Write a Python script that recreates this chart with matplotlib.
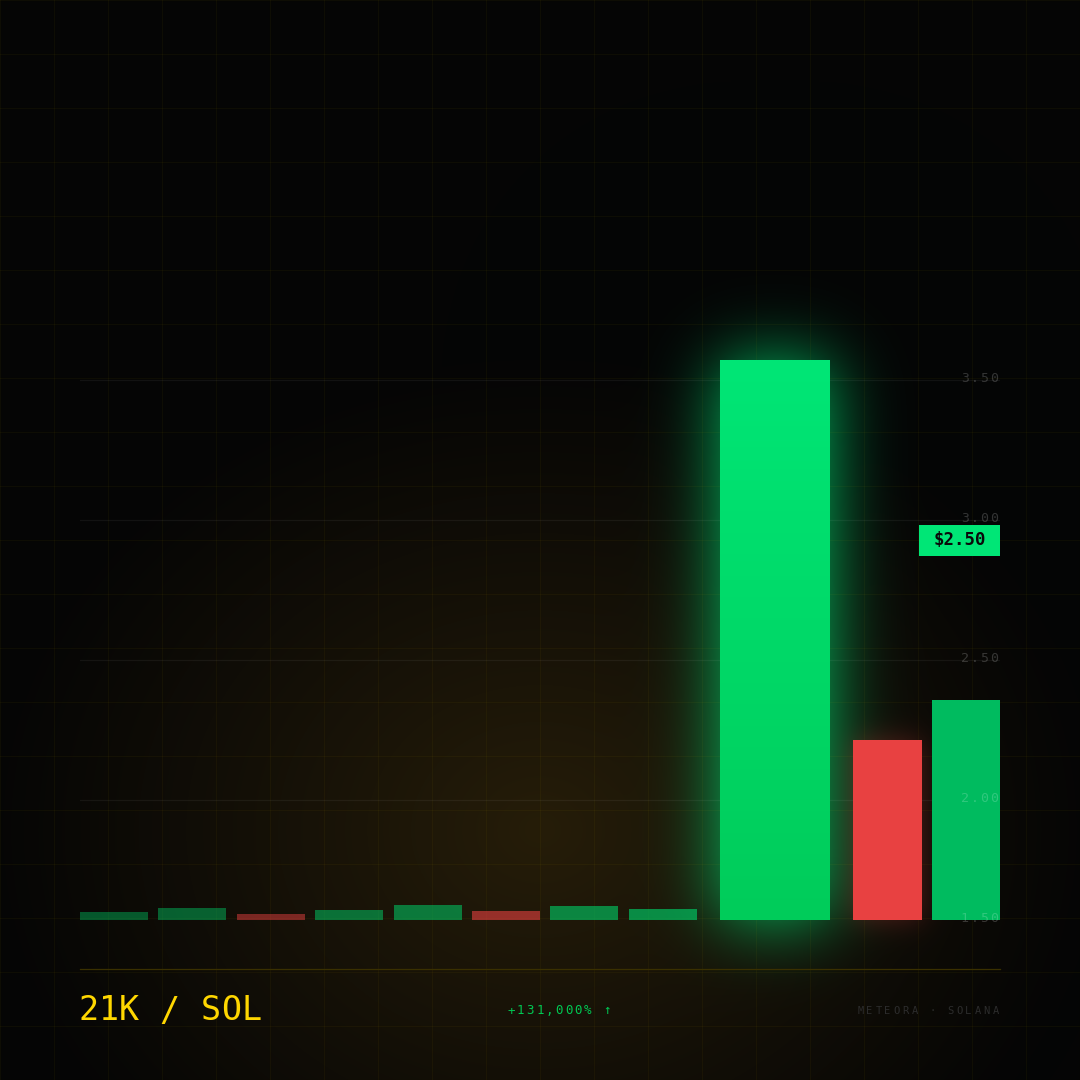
import numpy as np
import matplotlib.pyplot as plt
from matplotlib.transforms import IdentityTransform
from math import erf, sqrt

# candle data (heights in chart units above the base line)
candle_heights = [8, 12, 6, 10, 15, 9, 14, 11, 560, 180, 220]
candle_up = [True, True, False, True, True, False, True, True, True, False, True]
price_ticks = [540, 400, 260, 120, 0]
price_labels = ['3.50', '3.00', '2.50', '2.00', '1.50']
last_price = '$2.50'
last_price_level = 380
title = '21K / SOL'
change_text = '+131,000% ↑'
source_text = 'METEORA · SOLANA'

W = H = 1080
GREEN = '#00c864'
RED = '#e84141'
BIG_TOP = np.array([0, 230, 118]) / 255
BIG_BOT = np.array([0, 204, 90]) / 255
MONO = 'DejaVu Sans Mono'

fig = plt.figure(figsize=(10.8, 10.8), dpi=100)
fig.patch.set_facecolor('#050505')

# main chart axes, 1 data unit = 1 px
ax = fig.add_axes([80 / W, 160 / H, 920 / W, 560 / H], zorder=2)
ax.set_xlim(0, 920)
ax.set_ylim(0, 560)
ax.patch.set_alpha(0)
ax.axis('off')

lefts = [i * 78.4 for i in range(8)] + [640, 773, 852]
widths = [68] * 8 + [110, 69, 68]
colors = []
for i, up in enumerate(candle_up):
    if i < 8:
        colors.append((GREEN if up else RED, 0.42 + 0.035 * i))
    elif i == 8:
        colors.append((BIG_TOP, 1.0))
    else:
        colors.append(('#00bb5f' if up else RED, 1.0))

bars = ax.bar(lefts, candle_heights, width=widths, align='edge',
              color=[c for c, a in colors], zorder=3)
for b, (c, a) in zip(bars, colors):
    b.set_alpha(a)

# gradient fill for the breakout candle
big = bars[8]
grad = np.linspace(0, 1, 256)[:, None, None]
grad_img = BIG_BOT * (1 - grad) + BIG_TOP * grad
im = ax.imshow(grad_img, extent=(big.get_x(), big.get_x() + big.get_width(), 0, big.get_height()),
               origin='lower', aspect='auto', zorder=4)
im.set_clip_path(big)
ax.set_xlim(0, 920)
ax.set_ylim(0, 560)

# horizontal price grid
for v in price_ticks:
    ax.axhline(v, color='white', alpha=0.055, lw=0.9, zorder=1)


def spaced(x, y, s, step, ha='right', **kw):
    # draw letter-spaced monospace text in display pixels
    total = step * len(s)
    if ha == 'right':
        start = x - total
    elif ha == 'center':
        start = x - total / 2
    else:
        start = x
    for i, ch in enumerate(s):
        ax.text(start + step * (i + 0.5), y, ch, transform=IdentityTransform(),
                ha='center', va='center', family=MONO, clip_on=False, **kw)


for v, lab in zip(price_ticks, price_labels):
    yd = ax.transData.transform((0, v))[1]
    spaced(998.5, yd + 1.5, lab, 9.6, fontsize=9.5, color='white', alpha=0.19, zorder=5)

# current price tag
yd = ax.transData.transform((0, last_price_level))[1]
ax.add_patch(plt.Rectangle((919, yd - 15.5), 81, 31, transform=IdentityTransform(),
                           facecolor='#00e676', edgecolor='none', zorder=6, clip_on=False))
ax.text(959.5, yd, last_price, transform=IdentityTransform(), ha='center', va='center',
        family=MONO, fontweight='bold', fontsize=12.5, color='#0a0a0a', zorder=7)

# background: dark base, warm radial glow, candle glows
yy, xx = np.mgrid[0:H, 0:W] + 0.5
bg = np.ones((H, W, 3)) * (5 / 255)
d = np.sqrt(((xx - 540) / 560) ** 2 + ((yy - 830) / 470) ** 2)
warm = np.clip(1 - d, 0, 1) ** 1.1
bg += warm[..., None] * (np.array([33, 24, 4]) / 255)

erfv = np.vectorize(erf)


def blur_rect(bar, s):
    (x0, y0), (x1, y1) = ax.transData.transform(
        [(bar.get_x(), 0), (bar.get_x() + bar.get_width(), bar.get_height())])
    r0, r1 = H - y1, H - y0
    xs = np.arange(W) + 0.5
    ys = np.arange(H) + 0.5
    gx = 0.5 * (erfv((xs - x0) / (s * sqrt(2))) - erfv((xs - x1) / (s * sqrt(2))))
    gy = 0.5 * (erfv((ys - r0) / (s * sqrt(2))) - erfv((ys - r1) / (s * sqrt(2))))
    return gy[:, None] * gx[None, :]


a = np.clip(0.8 * blur_rect(bars[8], 34), 0, 1)[..., None]
bg = bg * (1 - a) + BIG_TOP * a
a = np.clip(0.3 * blur_rect(bars[9], 14), 0, 1)[..., None]
bg = bg * (1 - a) + np.array([229, 62, 62]) / 255 * a

bgax = fig.add_axes([0, 0, 1, 1], zorder=0)
bgax.imshow(np.clip(bg, 0, 1), extent=(0, W, H, 0), interpolation='bilinear')
for p in range(0, W + 1, 54):
    bgax.axvline(p, color='#ffd700', alpha=0.04, lw=0.8)
    bgax.axhline(p, color='#ffd700', alpha=0.04, lw=0.8)
bgax.set_xlim(0, W)
bgax.set_ylim(H, 0)
bgax.axis('off')

# footer
fax = fig.add_axes([0, 0, 1, 1], zorder=3)
fax.set_xlim(0, W)
fax.set_ylim(H, 0)
fax.axis('off')
fax.plot([80, 1000], [968.5, 968.5], color='#3a3000', lw=0.9)
ax = fax
spaced(78, H - 1011, title, 20.4, ha='left', fontsize=24, color='#ffd700')
spaced(559, H - 1011, change_text, 9.6, ha='center', fontsize=9, color='#00c853')
spaced(1000, H - 1011, source_text, 9.0, ha='right', fontsize=7.5, color='#2c2c2c')

fig.savefig('out.png', dpi=100, facecolor=fig.get_facecolor())
